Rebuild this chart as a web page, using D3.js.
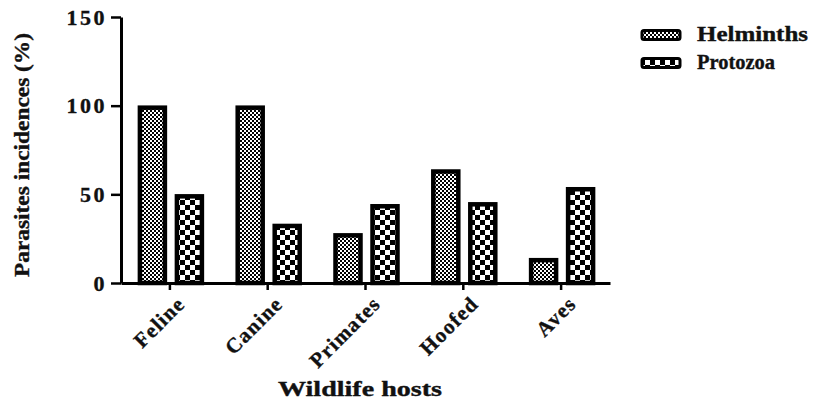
<!DOCTYPE html>
<html><head><meta charset="utf-8">
<script src="https://cdn.jsdelivr.net/npm/d3@7"></script>
<style>body{margin:0;background:#fff}svg{display:block}text{font-family:"Liberation Serif","Times New Roman",serif;font-weight:bold;fill:#111;stroke:#111;stroke-width:0.35px}</style>
</head><body>
<script>
const categories = ["Feline","Canine","Primates","Hoofed","Aves"];
const helminths = [100,100,28,64,14];
const protozoa = [50,33.3,44.4,45.5,54];
const seriesNames = ["Helminths","Protozoa"];
const yTicks = [0,50,100,150];

const W=824,H=406;
const svg=d3.select("body").append("svg").attr("width",W).attr("height",H);
const defs=svg.append("defs");
const p1=defs.append("pattern").attr("id","pH").attr("patternUnits","userSpaceOnUse").attr("width",4).attr("height",4);
p1.append("rect").attr("width",4).attr("height",4).attr("fill","#fff");
p1.append("rect").attr("width",2).attr("height",2).attr("fill","#000");
p1.append("rect").attr("x",2).attr("y",2).attr("width",2).attr("height",2).attr("fill","#000");
const p2=defs.append("pattern").attr("id","pP").attr("patternUnits","userSpaceOnUse").attr("width",10).attr("height",10);
p2.append("rect").attr("width",10).attr("height",10).attr("fill","#fff");
p2.append("rect").attr("width",5).attr("height",5).attr("fill","#000");
p2.append("rect").attr("x",5).attr("y",5).attr("width",5).attr("height",5).attr("fill","#000");

const x0=121,x1=610,yTop=17,yBot=283;
const x=d3.scaleBand().domain(categories).range([x0,x1]).padding(0);
const y=d3.scaleLinear().domain([0,150]).range([yBot,yTop]);
const bw=29;
const fills=["url(#pH)","url(#pP)"];
const offs=[-32,5];
[helminths,protozoa].forEach((vals,si)=>{
  svg.append("g").selectAll("rect").data(vals).join("rect")
    .attr("x",(d,i)=>x(categories[i])+x.bandwidth()/2+offs[si]+2)
    .attr("y",d=>y(d)+2)
    .attr("width",bw-4)
    .attr("height",d=>yBot-y(d)-2)
    .attr("fill",fills[si]).attr("stroke","#000").attr("stroke-width",4.5);
});

const ya=svg.append("g").attr("transform",`translate(${x0},0)`)
  .call(d3.axisLeft(y).tickValues(yTicks).tickSize(10).tickPadding(4).tickSizeOuter(0));
ya.select(".domain").attr("stroke","#000").attr("stroke-width",3);
ya.selectAll(".tick line").attr("stroke","#000").attr("stroke-width",2.5);
ya.selectAll(".tick text").attr("font-size",22).attr("letter-spacing",2.5).attr("fill","#111")
  .style("font-family","Liberation Serif").style("font-weight","bold");
const xa=svg.append("g").attr("transform",`translate(0,${yBot})`)
  .call(d3.axisBottom(x).tickSize(7).tickSizeOuter(0).tickPadding(4));
xa.select(".domain").attr("stroke","#000").attr("stroke-width",3);
xa.selectAll(".tick line").attr("stroke","#000").attr("stroke-width",2.5);
xa.selectAll(".tick text").attr("font-size",21).attr("letter-spacing",1.2).attr("fill","#111")
  .style("font-family","Liberation Serif").style("font-weight","bold")
  .attr("text-anchor","end").attr("dy","0.3em")
  .attr("transform","translate(4,10) rotate(-45)");

svg.append("text").attr("transform","translate(29,155) rotate(-90)").attr("text-anchor","middle")
  .attr("font-size",20).attr("textLength",244).attr("lengthAdjust","spacingAndGlyphs")
  .text("Parasites incidences (%)");
svg.append("text").attr("x",360).attr("y",396).attr("text-anchor","middle")
  .attr("font-size",20).attr("textLength",164).attr("lengthAdjust","spacingAndGlyphs")
  .text("Wildlife hosts");

const lg=svg.append("g");
const legW=[111,78];
seriesNames.forEach((n,i)=>{
  const yy=29+i*28;
  lg.append("rect").attr("x",642).attr("y",yy+1.5).attr("width",38).attr("height",9).attr("rx",2)
    .attr("fill",fills[i]).attr("stroke","#000").attr("stroke-width",3);
  lg.append("text").attr("x",697).attr("y",yy+12).attr("font-size",20)
    .attr("textLength",legW[i]).attr("lengthAdjust","spacingAndGlyphs").text(n);
});
</script>
</body></html>
